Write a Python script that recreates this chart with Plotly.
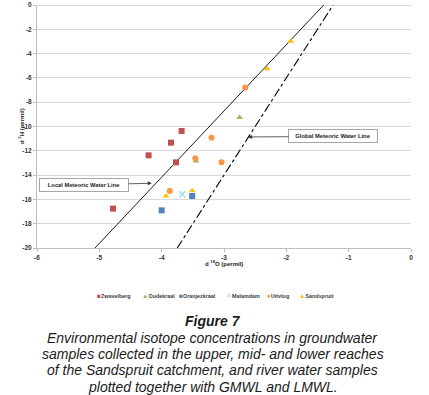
import plotly.graph_objects as go

# ---- data ----
zwavelberg_x = [-3.68, -3.85, -4.21, -3.77, -4.78]
zwavelberg_y = [-10.37, -11.33, -12.37, -12.95, -16.76]
oudekraal_x = [-2.75, -3.45]
oudekraal_y = [-9.25, -12.84]
oranjezkraal_x = [-4.00, -3.51]
oranjezkraal_y = [-16.90, -15.72]
malamdam_x = [-3.67]
malamdam_y = [-15.58]
uitvlug_x = [-2.66, -3.20, -3.04, -3.46, -3.87]
uitvlug_y = [-6.80, -10.92, -12.95, -12.62, -15.31]
sandspruit_x = [-1.93, -2.31, -3.93, -3.51]
sandspruit_y = [-2.99, -5.24, -15.72, -15.28]

lmwl_x = [-5.07, -1.40]
lmwl_y = [-20.0, 0.0]
gmwl_x = [-3.75, -1.25]
gmwl_y = [-20.0, 0.0]

x_ticks = [-6, -5, -4, -3, -2, -1, 0]
y_ticks = [0, -2, -4, -6, -8, -10, -12, -14, -16, -18, -20]

series = [
    ("Zwavelberg", zwavelberg_x, zwavelberg_y, "square", "#c0504d", 6, "\u25A0"),
    ("Oudekraal", oudekraal_x, oudekraal_y, "triangle-up", "#9bbb59", 6, "\u25B2"),
    ("Oranjezkraal", oranjezkraal_x, oranjezkraal_y, "square", "#4f81bd", 6, "\u25A0"),
    ("Malamdam", malamdam_x, malamdam_y, "x-thin-open", "#a8dbe6", 6, "\u2715"),
    ("Uitvlug", uitvlug_x, uitvlug_y, "circle", "#f79646", 6, "\u25CF"),
    ("Sandspruit", sandspruit_x, sandspruit_y, "triangle-up", "#ffc000", 6, "\u25B2"),
]

W, H = 429, 395
L, R, T, B = 37, 18, 5, 147
PW = W - L - R
PH = H - T - B

def px2paper_x(px):
    return (px - L) / PW

def px2paper_y(py):
    return (H - B - py) / PH

fig = go.Figure()

fig.add_trace(go.Scatter(x=lmwl_x, y=lmwl_y, mode="lines",
                         line=dict(color="#000000", width=0.9), showlegend=False, hoverinfo="skip"))
fig.add_trace(go.Scatter(x=gmwl_x, y=gmwl_y, mode="lines",
                         line=dict(color="#000000", width=1.1, dash="dashdot"), showlegend=False, hoverinfo="skip"))

for name, xs, ys, sym, col, sz, glyph in series:
    mk = dict(symbol=sym, color=col, size=sz)
    if sym == "x-thin-open":
        mk = dict(symbol=sym, color=col, size=sz, line=dict(color=col, width=1.5))
    fig.add_trace(go.Scatter(x=xs, y=ys, mode="markers", name=name, marker=mk, showlegend=False))

tick_font = dict(family="Liberation Sans, Arial, sans-serif", size=6.5, color="#333333")

fig.update_layout(
    width=W, height=H,
    margin=dict(l=L, r=R, t=T, b=B, autoexpand=False),
    paper_bgcolor="white", plot_bgcolor="white",
    showlegend=False,
    xaxis=dict(range=[-6, 0], tickmode="array", tickvals=x_ticks, ticktext=[f"<b>{v}</b>" for v in x_ticks],
               showgrid=False, zeroline=False, showline=True, linecolor="#bfbfbf", linewidth=1,
               ticks="outside", ticklen=3, tickcolor="#bfbfbf", tickfont=tick_font, automargin=False),
    yaxis=dict(range=[-20, 0], tickmode="array", tickvals=y_ticks, ticktext=[f"<b>{v}</b>" for v in y_ticks],
               showgrid=True, gridcolor="#d9d9d9", gridwidth=1, zeroline=False,
               showline=True, linecolor="#bfbfbf", linewidth=1,
               ticks="outside", ticklen=3, tickcolor="#bfbfbf", tickfont=tick_font, automargin=False),
)

# thicker top line at 0
fig.add_shape(type="line", xref="paper", yref="y", x0=0, x1=1, y0=0, y1=0,
              line=dict(color="#dcdcdc", width=2), layer="below")

ann_font = dict(family="Liberation Sans, Arial, sans-serif", size=5.8, color="#222222")

# boxed line labels with arrows
fig.add_annotation(x=-2.613, y=-10.86, ax=-1.249, ay=-10.82, xref="x", yref="y", axref="x", ayref="y",
                   text="<b>Global Meteoric Water Line</b>", font=ann_font, showarrow=True,
                   arrowhead=2, arrowsize=1, arrowwidth=0.8, arrowcolor="#333333",
                   bgcolor="white", bordercolor="#a6a6a6", borderwidth=1, borderpad=2,
                   width=84, height=8)
fig.add_annotation(x=-4.159, y=-14.67, ax=-5.246, ay=-14.81, xref="x", yref="y", axref="x", ayref="y",
                   text="<b>Local Meteoric Water Line</b>", font=ann_font, showarrow=True,
                   arrowhead=2, arrowsize=1, arrowwidth=0.8, arrowcolor="#333333",
                   bgcolor="white", bordercolor="#a6a6a6", borderwidth=1, borderpad=2,
                   width=84, height=8)

# axis titles
fig.add_annotation(x=px2paper_x(224), y=px2paper_y(268.5), xref="paper", yref="paper",
                   text="<b>d <sup>18</sup>O (permil)</b>", showarrow=False,
                   font=dict(family="Liberation Sans, Arial, sans-serif", size=6, color="#222222"))
fig.add_annotation(x=px2paper_x(15), y=px2paper_y(126), xref="paper", yref="paper",
                   text="<b>d <sup>2</sup>H (permil)</b>", showarrow=False, textangle=-90,
                   font=dict(family="Liberation Sans, Arial, sans-serif", size=6, color="#222222"))

# custom legend
legend_px = [95, 140, 177, 224, 265, 297]
for (name, xs, ys, sym, col, sz, glyph), lx in zip(series, legend_px):
    fig.add_annotation(x=px2paper_x(lx), y=px2paper_y(295), xref="paper", yref="paper",
                       xanchor="left", yanchor="middle", showarrow=False,
                       text=f"<span style='color:{col};font-size:6.5px'>{glyph}</span><b>{name}</b>",
                       font=dict(family="Liberation Sans, Arial, sans-serif", size=5.4, color="#404040"))

# caption
cap_font = dict(family="Liberation Sans, Arial, sans-serif", size=14, color="#1a1a1a")
caption = [
    ("<b><i>Figure 7</i></b>", 321),
    ("<i>Environmental isotope concentrations in groundwater</i>", 338),
    ("<i>samples collected in the upper, mid- and lower reaches</i>", 354),
    ("<i>of the Sandspruit catchment, and river water samples</i>", 370.5),
    ("<i>plotted together with GMWL and LMWL.</i>", 387),
]
for txt, py in caption:
    fig.add_annotation(x=px2paper_x(W / 2 - 2), y=px2paper_y(py), xref="paper", yref="paper",
                       xanchor="center", yanchor="middle", showarrow=False, text=txt, font=cap_font)

fig.write_html("out.html", config={"displayModeBar": False},
               post_script="document.body.style.margin='0';document.body.style.overflow='hidden';")
